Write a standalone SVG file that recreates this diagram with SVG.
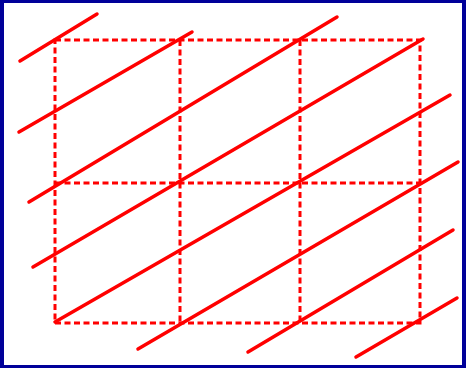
<svg xmlns="http://www.w3.org/2000/svg" width="466" height="368" viewBox="0 0 466 368">
<style>
.grid{stroke:#ff0000;stroke-width:3;stroke-dasharray:6 3.5;fill:none}
.diag{stroke:#ff0000;stroke-width:3.5;stroke-linecap:round;fill:none}
</style>
<rect x="0" y="0" width="466" height="368" fill="#000099"/>
<rect x="4" y="3" width="458" height="362" fill="#ffffff"/>
<g id="grid">
<rect class="grid" x="55" y="40" width="365" height="283"/>
<line class="grid" x1="180" y1="40" x2="180" y2="323"/>
<line class="grid" x1="300" y1="40" x2="300" y2="323"/>
<line class="grid" x1="55" y1="183" x2="420" y2="183"/>
</g>
<g id="connectors">
<line class="diag" x1="20" y1="61" x2="97" y2="14"/>
<line class="diag" x1="19" y1="132" x2="192" y2="32"/>
<line class="diag" x1="29" y1="202" x2="337" y2="17"/>
<line class="diag" x1="33" y1="267" x2="423" y2="39"/>
<line class="diag" x1="55" y1="322" x2="450" y2="95"/>
<line class="diag" x1="138" y1="349" x2="458" y2="162"/>
<line class="diag" x1="248" y1="352" x2="453" y2="230"/>
<line class="diag" x1="356" y1="357" x2="457" y2="298"/>
</g>
</svg>
